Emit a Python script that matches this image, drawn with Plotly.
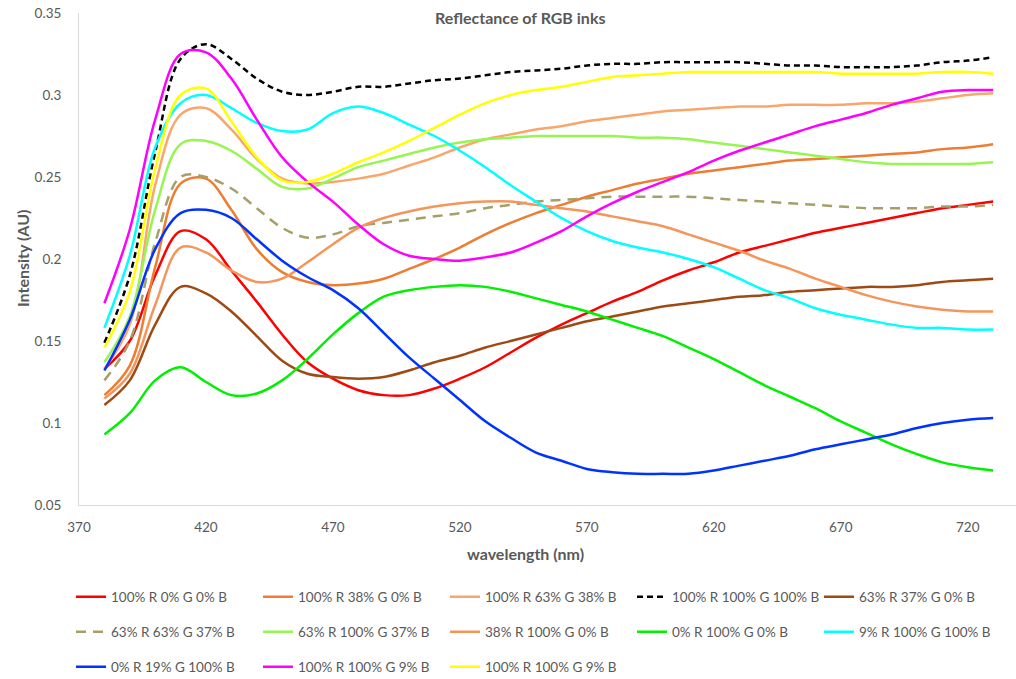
import plotly.graph_objects as go

wavelength = list(range(380, 731, 10))

names = [
    "100% R 0% G 0% B", "100% R 38% G 0% B", "100% R 63% G 38% B",
    "100% R 100% G 100% B", "63% R 37% G 0% B",
    "63% R 63% G 37% B", "63% R 100% G 37% B", "38% R 100% G 0% B",
    "0% R 100% G 0% B", "9% R 100% G 100% B",
    "0% R 19% G 100% B", "100% R 100% G 9% B", "100% R 100% G 9% B",
]

red = [0.133, 0.150, 0.190, 0.217, 0.212, 0.193, 0.174, 0.154, 0.137, 0.127, 0.120, 0.117,
       0.117, 0.121, 0.127, 0.134, 0.143, 0.152, 0.160, 0.167, 0.174, 0.180, 0.187, 0.193,
       0.198, 0.204, 0.208, 0.212, 0.216, 0.219, 0.222, 0.225, 0.228, 0.231, 0.233, 0.235]
orange38 = [0.117, 0.135, 0.195, 0.246, 0.249, 0.230, 0.206, 0.192, 0.186, 0.184, 0.185, 0.188,
            0.194, 0.200, 0.207, 0.215, 0.222, 0.228, 0.233, 0.238, 0.242, 0.246, 0.249, 0.252,
            0.254, 0.256, 0.258, 0.260, 0.261, 0.262, 0.263, 0.264, 0.265, 0.267, 0.268, 0.270]
orange63 = [0.133, 0.160, 0.245, 0.288, 0.292, 0.279, 0.261, 0.249, 0.246, 0.247, 0.249, 0.252,
            0.257, 0.262, 0.268, 0.273, 0.276, 0.279, 0.281, 0.284, 0.286, 0.288, 0.290, 0.291,
            0.292, 0.293, 0.293, 0.294, 0.294, 0.294, 0.295, 0.295, 0.296, 0.298, 0.300, 0.301]
white = [0.149, 0.190, 0.265, 0.322, 0.331, 0.322, 0.310, 0.302, 0.300, 0.302, 0.305, 0.305,
         0.307, 0.309, 0.310, 0.312, 0.314, 0.315, 0.316, 0.318, 0.319, 0.319, 0.320, 0.320,
         0.320, 0.320, 0.319, 0.318, 0.318, 0.317, 0.317, 0.317, 0.318, 0.320, 0.321, 0.323]
brown = [0.111, 0.126, 0.160, 0.183, 0.179, 0.168, 0.153, 0.138, 0.130, 0.128, 0.127, 0.128,
         0.132, 0.137, 0.141, 0.146, 0.150, 0.154, 0.158, 0.162, 0.165, 0.168, 0.171, 0.173,
         0.175, 0.177, 0.178, 0.180, 0.181, 0.182, 0.183, 0.183, 0.184, 0.186, 0.187, 0.188]
olive = [0.126, 0.150, 0.210, 0.250, 0.250, 0.243, 0.231, 0.219, 0.213, 0.215, 0.220, 0.222,
         0.224, 0.226, 0.228, 0.231, 0.233, 0.235, 0.236, 0.237, 0.238, 0.238, 0.238, 0.238,
         0.237, 0.236, 0.235, 0.234, 0.233, 0.232, 0.231, 0.231, 0.231, 0.232, 0.232, 0.233]
lightgreen = [0.137, 0.165, 0.230, 0.270, 0.272, 0.266, 0.255, 0.244, 0.243, 0.249, 0.256, 0.260,
              0.264, 0.268, 0.271, 0.273, 0.274, 0.275, 0.275, 0.275, 0.275, 0.274, 0.274, 0.273,
              0.271, 0.269, 0.267, 0.265, 0.263, 0.261, 0.259, 0.258, 0.258, 0.258, 0.258, 0.259]
orange100g = [0.115, 0.130, 0.172, 0.207, 0.204, 0.193, 0.186, 0.188, 0.198, 0.209, 0.219, 0.225,
              0.229, 0.232, 0.234, 0.235, 0.235, 0.233, 0.231, 0.229, 0.226, 0.223, 0.220, 0.215,
              0.210, 0.205, 0.199, 0.194, 0.188, 0.183, 0.178, 0.174, 0.171, 0.169, 0.168, 0.168]
green = [0.093, 0.106, 0.126, 0.134, 0.125, 0.117, 0.118, 0.126, 0.139, 0.154, 0.167, 0.177,
         0.181, 0.183, 0.184, 0.183, 0.180, 0.176, 0.172, 0.168, 0.163, 0.158, 0.153, 0.146,
         0.139, 0.131, 0.123, 0.116, 0.109, 0.101, 0.094, 0.087, 0.081, 0.076, 0.073, 0.071]
cyan = [0.158, 0.202, 0.268, 0.295, 0.300, 0.292, 0.283, 0.278, 0.279, 0.289, 0.293, 0.289,
        0.282, 0.275, 0.266, 0.256, 0.245, 0.235, 0.225, 0.217, 0.211, 0.207, 0.204, 0.200,
        0.195, 0.188, 0.181, 0.176, 0.170, 0.166, 0.163, 0.160, 0.158, 0.158, 0.157, 0.157]
blue = [0.132, 0.163, 0.206, 0.228, 0.230, 0.225, 0.212, 0.199, 0.189, 0.181, 0.170, 0.155,
        0.140, 0.127, 0.114, 0.101, 0.091, 0.082, 0.077, 0.072, 0.070, 0.069, 0.069, 0.069,
        0.071, 0.074, 0.077, 0.080, 0.084, 0.087, 0.090, 0.093, 0.097, 0.100, 0.102, 0.103]
magenta = [0.173, 0.218, 0.285, 0.325, 0.326, 0.310, 0.285, 0.262, 0.247, 0.235, 0.221, 0.209,
           0.202, 0.200, 0.199, 0.201, 0.204, 0.210, 0.217, 0.226, 0.234, 0.241, 0.247, 0.253,
           0.260, 0.266, 0.271, 0.276, 0.281, 0.285, 0.289, 0.294, 0.298, 0.302, 0.303, 0.303]
yellow = [0.146, 0.180, 0.255, 0.300, 0.304, 0.284, 0.262, 0.248, 0.247, 0.252, 0.259, 0.265,
          0.272, 0.280, 0.288, 0.295, 0.300, 0.303, 0.305, 0.308, 0.311, 0.312, 0.313, 0.314,
          0.314, 0.314, 0.314, 0.314, 0.314, 0.313, 0.313, 0.313, 0.313, 0.314, 0.314, 0.313]

series = [red, orange38, orange63, white, brown, olive, lightgreen, orange100g,
          green, cyan, blue, magenta, yellow]
colors = ["#FF0000", "#ED7D31", "#F9A66C", "#000000", "#9E4A14",
          "#A5A069", "#96F550", "#F4965C", "#00F000", "#00FFFF",
          "#0033FF", "#FF00FF", "#FFFF00"]
dashes = ["solid", "solid", "solid", "6px,4px", "solid",
          "10px,7px", "solid", "solid", "solid", "solid",
          "solid", "solid", "solid"]

TXT = "#595959"
FONT = "Lato"

fig = go.Figure()
for i, (nm, ys, c, d) in enumerate(zip(names, series, colors, dashes)):
    leg = ["legend", "legend2", "legend3"][i // 5]
    fig.add_trace(go.Scatter(
        x=wavelength, y=ys, mode="lines", name=nm,
        line=dict(color=c, width=2.5, dash=d, shape="spline", smoothing=1.0),
        legend=leg,
    ))

W, H = 1016, 679
L, R, T, B = 79, 0, 13, 174
pw, ph = W - L - R, H - T - B


def px(x):
    return (x - L) / pw


def py(y):
    return (H - B - y) / ph


legend_common = dict(
    orientation="h", xanchor="left", yanchor="middle",
    font=dict(family=FONT, size=13.5, color=TXT),
    bgcolor="rgba(0,0,0,0)", entrywidth=142, entrywidthmode="pixels",
    itemwidth=30, tracegroupgap=0,
)

fig.update_layout(
    width=W, height=H,
    margin=dict(l=L, r=R, t=T, b=B, autoexpand=False),
    paper_bgcolor="white", plot_bgcolor="white",
    font=dict(family=FONT, size=13, color=TXT),
    showlegend=True,
    legend=dict(x=px(71), y=py(597), **legend_common),
    legend2=dict(x=px(71), y=py(632), **legend_common),
    legend3=dict(x=px(71), y=py(667), **legend_common),
    xaxis=dict(
        range=[370, 739], tick0=370, dtick=50, showgrid=False, zeroline=False,
        showline=True, linecolor="#D9D9D9", linewidth=1, ticks="", automargin=False,
        tickfont=dict(family=FONT, size=13.5, color=TXT), ticklabelstandoff=10,
    ),
    yaxis=dict(
        range=[0.05, 0.35], tick0=0.05, dtick=0.05, showgrid=False, zeroline=False,
        showline=True, linecolor="#D9D9D9", linewidth=1, ticks="", automargin=False,
        tickfont=dict(family=FONT, size=13.5, color=TXT), ticklabelstandoff=14,
    ),
    annotations=[
        dict(text="<b>Reflectance of RGB inks</b>", x=px(520), y=py(17),
             xref="paper", yref="paper", showarrow=False, xanchor="center",
             yanchor="middle", font=dict(family=FONT, size=16, color=TXT)),
        dict(text="<b>wavelength (nm)</b>", x=px(525), y=py(553),
             xref="paper", yref="paper", showarrow=False, xanchor="center",
             yanchor="middle", font=dict(family=FONT, size=16, color=TXT)),
        dict(text="<b>Intensity (AU)</b>", x=px(22), y=py(259), textangle=-90,
             xref="paper", yref="paper", showarrow=False, xanchor="center",
             yanchor="middle", font=dict(family=FONT, size=16, color=TXT)),
    ],
)

fig.write_html(
    "out.html",
    config={"displayModeBar": False},
    post_script="document.body.style.margin='0px';document.body.style.overflow='hidden';",
)
